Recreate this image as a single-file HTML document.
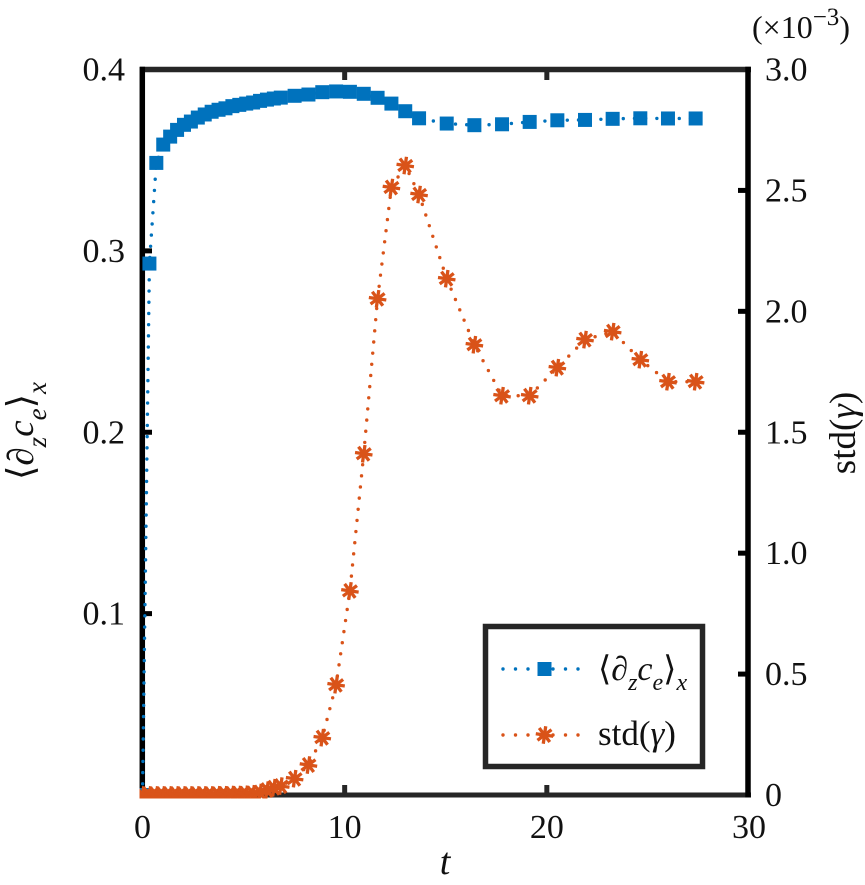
<!DOCTYPE html>
<html>
<head>
<meta charset="utf-8">
<style>
html,body{margin:0;padding:0;background:#fff;}
svg{display:block;}
text{font-family:"Liberation Serif","DejaVu Serif",serif;fill:#111;}
</style>
</head>
<body>
<svg id="chart" width="865" height="885" viewBox="0 0 865 885" xmlns="http://www.w3.org/2000/svg">
<rect x="0" y="0" width="865" height="885" fill="#fff"/>
<defs><clipPath id="plotClip"><rect x="139.5" y="60" width="612" height="738.5"/></clipPath></defs>
<g id="axes"></g>
<g id="series" clip-path="url(#plotClip)"></g>
<text x="445" y="874" font-size="38" font-style="italic" text-anchor="middle">t</text>
<text transform="translate(33,431) rotate(-90)" font-size="37" text-anchor="middle">⟨∂<tspan font-style="italic" font-size="27" dy="13">z</tspan><tspan font-style="italic" dy="-13">c</tspan><tspan font-style="italic" font-size="27" dy="13">e</tspan><tspan dy="-13">⟩</tspan><tspan font-style="italic" font-size="27" dy="13">x</tspan></text>
<text transform="translate(855,433) rotate(-90)" font-size="37" text-anchor="middle">std(<tspan font-style="italic">γ</tspan>)</text>
<text x="752" y="38" font-size="32">(×10<tspan font-size="25" dy="-13">−3</tspan><tspan dy="13">)</tspan></text>
<g id="legend">
<rect x="485.5" y="626.5" width="217" height="140" fill="#fff" stroke="#262626" stroke-width="5.5"/>
<line x1="503" y1="669" x2="585" y2="669" stroke="#0072BD" stroke-width="3.4" stroke-linecap="round" stroke-dasharray="0 12.5"/>
<rect x="537.5" y="662" width="14" height="14" fill="#0072BD"/>
<text x="598" y="680" font-size="34">⟨∂<tspan font-style="italic" font-size="24" dy="10">z</tspan><tspan font-style="italic" dy="-10">c</tspan><tspan font-style="italic" font-size="24" dy="10">e</tspan><tspan dy="-10">⟩</tspan><tspan font-style="italic" font-size="24" dy="10">x</tspan></text>
<line x1="503" y1="735" x2="585" y2="735" stroke="#D95319" stroke-width="3.4" stroke-linecap="round" stroke-dasharray="0 12.5"/>
<g id="legendStar"></g>
<text x="598" y="745" font-size="35">std(<tspan font-style="italic">γ</tspan>)</text>
</g>
</svg>
<script>
const timeValues = [0,0.342,0.684,1.026,1.368,1.71,2.052,2.394,2.736,3.078,3.42,3.762,4.104,4.446,4.788,5.13,5.472,5.814,6.156,6.498,6.84,7.524,8.208,8.892,9.576,10.26,10.944,11.628,12.312,12.996,13.68,15.048,16.416,17.784,19.152,20.52,21.888,23.256,24.624,25.992,27.36];
const gradientValues = [0,0.293,0.3485,0.3586,0.363,0.3667,0.3695,0.3713,0.3735,0.3752,0.3767,0.3778,0.3786,0.3798,0.3805,0.3812,0.3818,0.3827,0.3834,0.384,0.3845,0.3855,0.3862,0.3875,0.3879,0.3877,0.3866,0.3844,0.3812,0.377,0.3731,0.3702,0.3693,0.3698,0.3711,0.372,0.3722,0.3728,0.3731,0.373,0.373];
const stdValues = [0,0,0,0,0,0,0,0,0,0,0,0.001,0.001,0.002,0.002,0.003,0.005,0.01,0.02,0.03,0.037,0.0675,0.124,0.237,0.456,0.844,1.411,2.052,2.512,2.603,2.483,2.135,1.862,1.651,1.651,1.767,1.883,1.916,1.8,1.709,1.709];
const xTickValues = [0,10,20,30];
const xTickLabels = ["0","10","20","30"];
const leftTickValues = [0.1,0.2,0.3,0.4];
const leftTickLabels = ["0.1","0.2","0.3","0.4"];
const rightTickValues = [0,0.5,1,1.5,2,2.5,3];
const rightTickLabels = ["0","0.5","1.0","1.5","2.0","2.5","3.0"];

const NS = "http://www.w3.org/2000/svg";
const xScale = function (t) { return 142.5 + t * (749 - 142.5) / 30; };
const yLeft = function (v) { return 795 - v * (795 - 69.5) / 0.4; };
const yRight = function (v) { return 795 - v * (795 - 69.5) / 3; };

function make(tag, attrs, parent) {
  const el = document.createElementNS(NS, tag);
  for (const k in attrs) { el.setAttribute(k, attrs[k]); }
  parent.appendChild(el);
  return el;
}

const axes = document.getElementById("axes");
const series = document.getElementById("series");

function drawStar(parent, cx, cy) {
  const r = 8.8;
  const angles = [8, 53, 98, 143];
  angles.forEach(function (a) {
    const dx = r * Math.cos(a * Math.PI / 180);
    const dy = r * Math.sin(a * Math.PI / 180);
    const arm = make("line", {x1: cx - dx, y1: cy - dy, x2: cx + dx, y2: cy + dy, stroke: "#D95319", "stroke-width": 3.3}, parent);
    
    
  });
}

// spines
const spineTop = make("line", {x1: 140, y1: 69.5, x2: 751, y2: 69.5, stroke: "#262626", "stroke-width": 5.5}, axes);


const spineBottom = make("line", {x1: 140, y1: 795, x2: 751, y2: 795, stroke: "#262626", "stroke-width": 5}, axes);


const spineLeft = make("line", {x1: 142.3, y1: 66.8, x2: 142.3, y2: 797.5, stroke: "#000", "stroke-width": 5.5}, axes);


const spineRight = make("line", {x1: 748, y1: 66.8, x2: 748, y2: 797.5, stroke: "#000", "stroke-width": 5.5}, axes);



// x ticks and labels
xTickValues.forEach(function (v, i) {
  const x = xScale(v);
  if (i > 0 && i < xTickValues.length - 1) {
    const t1 = make("line", {x1: x, y1: 795, x2: x, y2: 785, stroke: "#262626", "stroke-width": 5}, axes);
    
    
    const t2 = make("line", {x1: x, y1: 69.5, x2: x, y2: 80, stroke: "#262626", "stroke-width": 5}, axes);
    
    
  }
  const label = make("text", {x: x, y: 838, "font-size": 34, "text-anchor": "middle"}, axes);
  
  
  label.textContent = xTickLabels[i];
});

// left ticks and labels
leftTickValues.forEach(function (v, i) {
  const y = yLeft(v);
  if (i < leftTickValues.length - 1) {
    const t = make("line", {x1: 142, y1: y, x2: 152, y2: y, stroke: "#000", "stroke-width": 5}, axes);
    
    
  }
  const label = make("text", {x: 125, y: y + 11, "font-size": 34, "text-anchor": "end"}, axes);
  
  
  label.textContent = leftTickLabels[i];
});

// right ticks and labels
rightTickValues.forEach(function (v, i) {
  const y = yRight(v);
  if (i > 0 && i < rightTickValues.length - 1) {
    const t = make("line", {x1: 748, y1: y, x2: 738, y2: y, stroke: "#000", "stroke-width": 5}, axes);
    
    
  }
  const label = make("text", {x: 765, y: y + 11, "font-size": 34}, axes);
  
  
  label.textContent = rightTickLabels[i];
});

// gradient series
const gradientPoints = timeValues.map(function (t, i) { return xScale(t) + "," + yLeft(gradientValues[i]); }).join(" ");
const gradientLine = make("polyline", {points: gradientPoints, fill: "none", stroke: "#0072BD", "stroke-width": 3.4, "stroke-linecap": "round", "stroke-dasharray": "0 11.2"}, series);


timeValues.forEach(function (t, i) {
  const sq = make("rect", {x: xScale(t) - 7, y: yLeft(gradientValues[i]) - 7, width: 14, height: 14, fill: "#0072BD"}, series);
  
  
});

// std series
const stdPoints = timeValues.map(function (t, i) { return xScale(t) + "," + yRight(stdValues[i]); }).join(" ");
const stdLine = make("polyline", {points: stdPoints, fill: "none", stroke: "#D95319", "stroke-width": 3.4, "stroke-linecap": "round", "stroke-dasharray": "0 11.2"}, series);


timeValues.forEach(function (t, i) {
  const g = make("g", {}, series);
  
  
  drawStar(g, xScale(t), yRight(stdValues[i]));
});

drawStar(document.getElementById("legendStar"), 544.5, 735);
</script>
</body>
</html>
